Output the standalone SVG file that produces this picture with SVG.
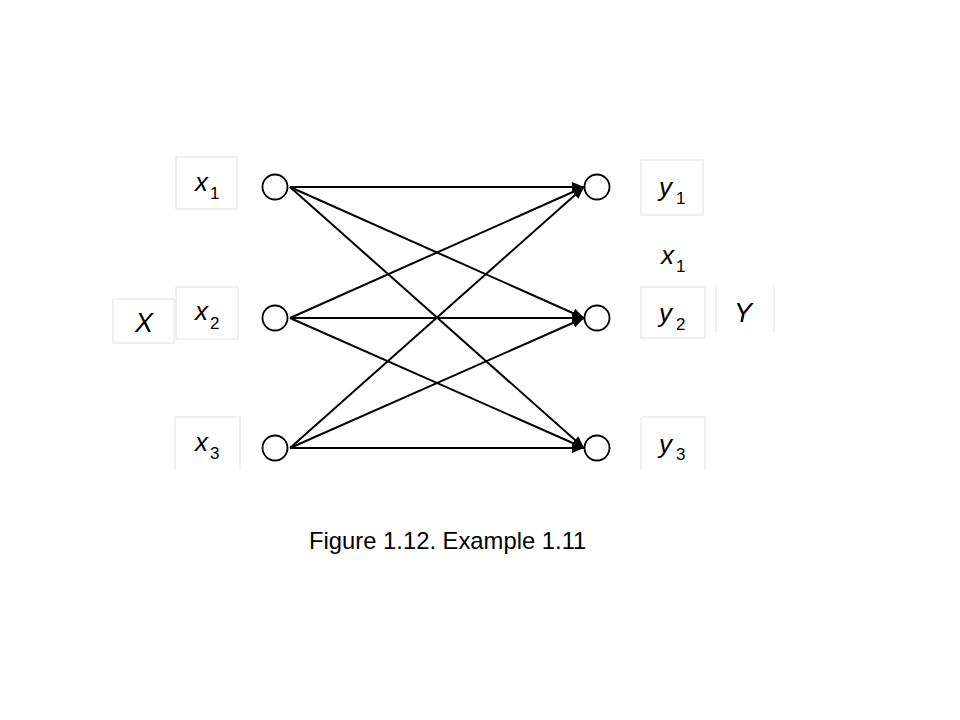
<svg xmlns="http://www.w3.org/2000/svg" width="960" height="720" viewBox="0 0 960 720">
<defs>
<style>
.node{fill:#fff;stroke:#000;stroke-width:1.8}
.edge{stroke:#000;stroke-width:2;fill:none}
.box{fill:none;stroke:#e2e2e2;stroke-width:1}
.v{font-family:"Liberation Sans",Arial,sans-serif;font-style:italic;font-size:26px;fill:#000}
.s{font-family:"Liberation Sans",Arial,sans-serif;font-size:17px;fill:#000}
.big{font-family:"Liberation Sans",Arial,sans-serif;font-style:italic;font-size:27px;fill:#000}
.cap{font-family:"Liberation Sans",Arial,sans-serif;font-size:23.8px;fill:#000}
</style>
<marker id="arr" viewBox="0 0 12 10" refX="12" refY="5" markerWidth="12" markerHeight="10" markerUnits="userSpaceOnUse" orient="auto">
<path d="M0,0 L12,5 L0,10 z" fill="#000"/>
</marker>
</defs>
<rect width="960" height="720" fill="#fff"/>

<g id="labels">
<g id="label-x1"><rect class="box" x="176" y="157" width="61" height="52"/><text class="v" x="195" y="191">x</text><text class="s" x="210" y="199">1</text></g>
<g id="label-x2"><rect class="box" x="176" y="287" width="62" height="52"/><text class="v" x="195" y="320">x</text><text class="s" x="210" y="329">2</text></g>
<g id="label-X"><rect class="box" x="113" y="299" width="61" height="44"/><text class="big" x="135" y="332">X</text></g>
<g id="label-x3"><path class="box" d="M175,470 V417 H240 V470"/><text class="v" x="195" y="451">x</text><text class="s" x="210" y="459">3</text></g>
<g id="label-y1"><rect class="box" x="641" y="160" width="62" height="55"/><text class="v" x="659" y="196">y</text><text class="s" x="676" y="204">1</text></g>
<g id="label-x1b"><text class="v" x="661" y="264">x</text><text class="s" x="676" y="272">1</text></g>
<g id="label-y2"><rect class="box" x="641" y="287" width="64" height="51"/><text class="v" x="659" y="322">y</text><text class="s" x="676" y="330">2</text></g>
<g id="label-Y"><path class="box" d="M716,285 V332 M774,285 V332"/><text class="big" x="734" y="322">Y</text></g>
<g id="label-y3"><path class="box" d="M641,470 V417 H705 V470"/><text class="v" x="659" y="453">y</text><text class="s" x="676" y="460">3</text></g>
</g>

<g id="connectors">
<line class="edge" x1="290" y1="187" x2="584" y2="187" marker-end="url(#arr)"/>
<line class="edge" x1="290" y1="187" x2="584" y2="318" marker-end="url(#arr)"/>
<line class="edge" x1="290" y1="187" x2="584" y2="448" marker-end="url(#arr)"/>
<line class="edge" x1="290" y1="318" x2="584" y2="187" marker-end="url(#arr)"/>
<line class="edge" x1="290" y1="318" x2="584" y2="318" marker-end="url(#arr)"/>
<line class="edge" x1="290" y1="318" x2="584" y2="448" marker-end="url(#arr)"/>
<line class="edge" x1="290" y1="448" x2="584" y2="187" marker-end="url(#arr)"/>
<line class="edge" x1="290" y1="448" x2="584" y2="318" marker-end="url(#arr)"/>
<line class="edge" x1="290" y1="448" x2="584" y2="448" marker-end="url(#arr)"/>
</g>

<g id="node-a1"><circle class="node" cx="275" cy="187" r="12.5"/></g>
<g id="node-a2"><circle class="node" cx="275" cy="318" r="12.5"/></g>
<g id="node-a3"><circle class="node" cx="275" cy="448" r="12.5"/></g>
<g id="node-b1"><circle class="node" cx="597" cy="187" r="12.5"/></g>
<g id="node-b2"><circle class="node" cx="597" cy="318" r="12.5"/></g>
<g id="node-b3"><circle class="node" cx="597" cy="448" r="12.5"/></g>

<text class="cap" x="309" y="549">Figure 1.12. Example 1.11</text>
</svg>
